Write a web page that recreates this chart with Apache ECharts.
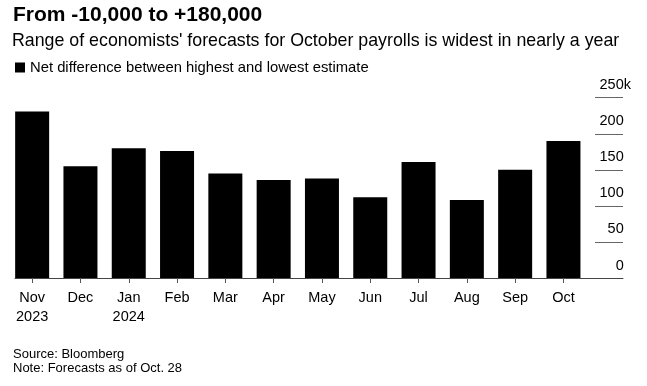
<!DOCTYPE html>
<html>
<head>
<meta charset="utf-8">
<script src="https://cdn.jsdelivr.net/npm/echarts@6/dist/echarts.min.js"></script>
<style>
  html, body { margin: 0; padding: 0; background: #fff; }
  #chart { width: 647px; height: 386px; }
</style>
</head>
<body>
<div id="chart"></div>
<script>
const categories = ['Nov\n2023', 'Dec', 'Jan\n2024', 'Feb', 'Mar', 'Apr', 'May', 'Jun', 'Jul', 'Aug', 'Sep', 'Oct'];
const values = [231, 155, 180, 176, 145, 136, 138, 112, 161, 108, 150, 190];
const yTicks = [0, 50, 100, 150, 200, 250];
const titleText = 'From -10,000 to +180,000';
const subtitleText = "Range of economists' forecasts for October payrolls is widest in nearly a year";
const seriesName = 'Net difference between highest and lowest estimate';
const sourceText = 'Source: Bloomberg';
const noteText = 'Note: Forecasts as of Oct. 28';

const FONT = '"Liberation Sans", Arial, Helvetica, sans-serif';
const chart = echarts.init(document.getElementById('chart'), null, { renderer: 'canvas' });

const option = {
  backgroundColor: '#fff',
  animation: false,
  textStyle: { fontFamily: FONT },
  title: [
    { text: titleText, left: 13, top: 5, padding: 0,
      textStyle: { fontFamily: FONT, fontSize: 21, fontWeight: 'bold', color: '#000' } },
    { text: subtitleText, left: 12, top: 32, padding: 0,
      textStyle: { fontFamily: FONT, fontSize: 17.8, fontWeight: 'normal', color: '#000' } },
    { text: sourceText, left: 13, top: 348, padding: 0,
      textStyle: { fontFamily: FONT, fontSize: 13, fontWeight: 'normal', color: '#000' } },
    { text: noteText, left: 13, top: 362, padding: 0,
      textStyle: { fontFamily: FONT, fontSize: 13, fontWeight: 'normal', color: '#000' } }
  ],
  legend: {
    left: 15, top: 60, padding: 0,
    icon: 'rect', itemWidth: 10, itemHeight: 10, itemGap: 5,
    textStyle: { fontFamily: FONT, fontSize: 14.8, color: '#000', padding: [0, 0, 0, 0] },
    data: [seriesName]
  },
  grid: [
    { left: 8, right: 59.4, top: 97.7, bottom: 108, containLabel: false },
    { left: 15, right: 24, top: 97.7, bottom: 108, containLabel: false },
    { left: 595, right: 24, top: 97.7, bottom: 108, containLabel: false }
  ],
  xAxis: [
    { type: 'category', gridIndex: 0, data: categories, boundaryGap: true,
      axisLine: { show: false },
      axisTick: { show: true, alignWithLabel: true, length: 5, lineStyle: { color: '#555' } },
      axisLabel: { color: '#000', fontFamily: FONT, fontSize: 14.5, lineHeight: 19, margin: 10, interval: 0 }
    },
    { type: 'value', gridIndex: 1, min: 0, max: 1,
      axisLine: { show: true, lineStyle: { color: '#444', width: 1 } },
      axisTick: { show: false }, axisLabel: { show: false }, splitLine: { show: false }
    },
    { type: 'value', gridIndex: 2, min: 0, max: 1, show: false }
  ],
  yAxis: [
    { type: 'value', gridIndex: 0, min: 0, max: 250, interval: 50, show: false },
    { type: 'value', gridIndex: 1, min: 0, max: 250, interval: 50, show: false },
    { type: 'value', gridIndex: 2, position: 'right', min: 0, max: 250, interval: 50,
      axisLine: { show: false },
      axisTick: { show: false },
      splitLine: { show: true, lineStyle: { color: '#666', width: 1 } },
      axisLabel: {
        inside: true, margin: -8, align: 'right', verticalAlign: 'bottom',
        padding: [0, 0, 5, 0],
        color: '#000', fontFamily: FONT, fontSize: 14.5,
        formatter: function (v) { return v === yTicks[yTicks.length - 1] ? v + 'k' : v + '{t|k}'; },
        rich: { t: { color: 'rgba(0,0,0,0)', fontFamily: FONT, fontSize: 14.5 } }
      }
    }
  ],
  series: [
    { name: seriesName, type: 'bar', xAxisIndex: 0, yAxisIndex: 0,
      data: values, barWidth: 34, itemStyle: { color: '#000' } }
  ]
};
chart.setOption(option);
</script>
</body>
</html>
